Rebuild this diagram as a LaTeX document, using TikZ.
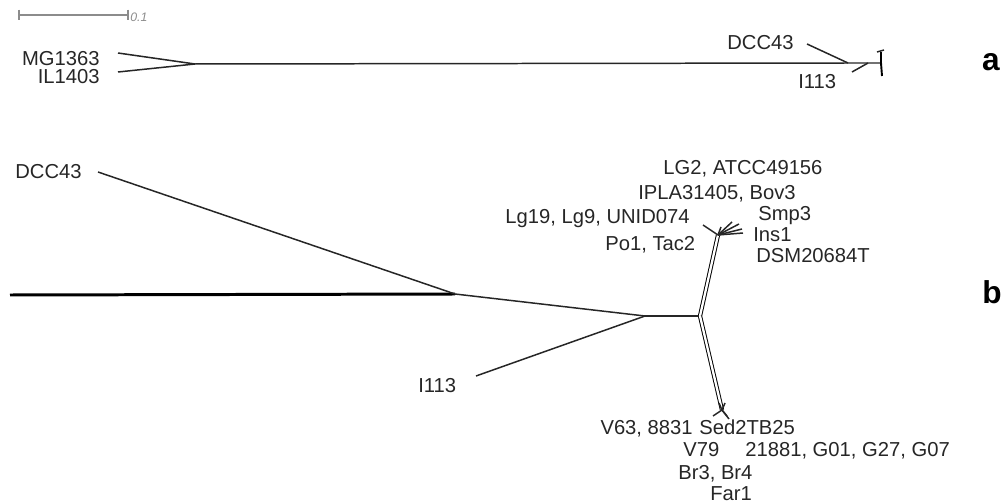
\documentclass[tikz,border=0pt]{standalone}
\usepackage{fontspec}
\setmainfont{Liberation Sans}
\usetikzlibrary{positioning}
\definecolor{Ink}{HTML}{262626}
\definecolor{Muted}{HTML}{8C8C8C}
\tikzset{branch/.style={draw=Ink,line width=.85pt},trunk/.style={draw=black,line width=1.7pt},twin/.style={draw=black,line width=.55pt,double=white,double distance=1.3pt},taxon/.style={font=\fontsize{11.5}{13}\selectfont,text=Ink,inner sep=0pt},panel/.style={font=\fontsize{18}{20}\selectfont\bfseries,inner sep=0pt},tick/.style={draw=Muted,line width=.6pt}}

\begin{document}
\begin{tikzpicture}[x=0.02cm,y=-0.02cm]
      \useasboundingbox (0,0) rectangle (1004,503);
      % scale bar
      \coordinate (s0) at (19,15);\coordinate (s1) at (128,15);
      \draw[tick](s0)--(s1);\draw[tick]([yshift=3pt]s0)--([yshift=-3pt]s0);\draw[tick]([yshift=3pt]s1)--([yshift=-3pt]s1);
      \node[anchor=west,inner sep=0pt,text=Muted,font=\fontsize{7}{8}\selectfont\itshape](sc) at (130,17){0.1};
      % panel a
      \node[taxon,anchor=base east](mg) at (100,66){MG1363};
      \node[taxon,anchor=base east](il) at (100,84){IL1403};
      \node[taxon,anchor=base west](dca) at (727,50){DCC43};
      \node[taxon,anchor=base west](ia) at (798,89){I113};
      \coordinate (amg) at (118,53);\coordinate (ail) at (118,72);\coordinate (ra) at (195,64);
      \coordinate (adc) at (807,44);\coordinate (ja) at (848,63);\coordinate (ai) at (852,72);\coordinate (ka) at (868,63);\coordinate (la) at (881,63);
      \draw[branch](amg)--(ra);\draw[branch](ail)--(ra);
      \draw[branch](ra)--(ja)--(ka)--(la);
      \draw[branch](adc)--(ja);\draw[branch](ai)--(ka);
      \draw[draw=black,line width=1.1pt](881,52)--(la)--(882,76);\draw[branch](877,52)--(884,50);
      \node[panel](pa) at (991,62){a};
      % panel b
      \node[taxon,anchor=base west](dcb) at (15,179){DCC43};
      \node[taxon,anchor=base west](ib) at (418,392){I113};
      \coordinate (r0) at (10,295);\coordinate (rb) at (455,294);\coordinate (bdc) at (98,172);
      \coordinate (jb) at (645,316);\coordinate (bi) at (476,376);\coordinate (kb) at (700,316);
      \coordinate (up) at (718,235);\coordinate (dn) at (722,410);
      \draw[trunk](r0)--(rb);
      \draw[branch](bdc)--(rb);\draw[branch](rb)--(jb);\draw[branch](bi)--(jb);\draw[branch](jb)--(kb);
      \draw[twin](kb)--(up);\draw[twin](kb)--(dn);
      \foreach \p in {(703,225),(721,227),(732,222),(739,224),(742,229),(743,233)}{\draw[branch](up)--\p;}
      \foreach \p in {(713,416),(727,416),(729,419),(719,403),(725,403)}{\draw[branch](dn)--\p;}
      \node[taxon,anchor=base west](lg2) at (663,175){LG2, ATCC49156};
      \node[taxon,anchor=base west](ipl) at (638,200){IPLA31405, Bov3};
      \node[taxon,anchor=base east](lg19) at (690,224){Lg19, Lg9, UNID074};
      \node[taxon,anchor=base west](smp) at (758,221){Smp3};
      \node[taxon,anchor=base west](po1) at (605,251){Po1, Tac2};
      \node[taxon,anchor=base west](ins) at (753,242){Ins1};
      \node[taxon,anchor=base west](dsm) at (756,263){DSM20684T};
      \node[taxon,anchor=base east](v63) at (693,434){V63, 8831};
      \node[taxon,anchor=base west](sed) at (699,434){Sed2TB25};
      \node[taxon,anchor=base west](v79) at (683,456){V79};
      \node[taxon,anchor=base west](g01) at (745,456){21881, G01, G27, G07};
      \node[taxon,anchor=base west](br) at (678,479){Br3, Br4};
      \node[taxon,anchor=base west](far) at (710,500){Far1};
      \node[panel](pb) at (992,292){b};
    \end{tikzpicture}
\end{document}
